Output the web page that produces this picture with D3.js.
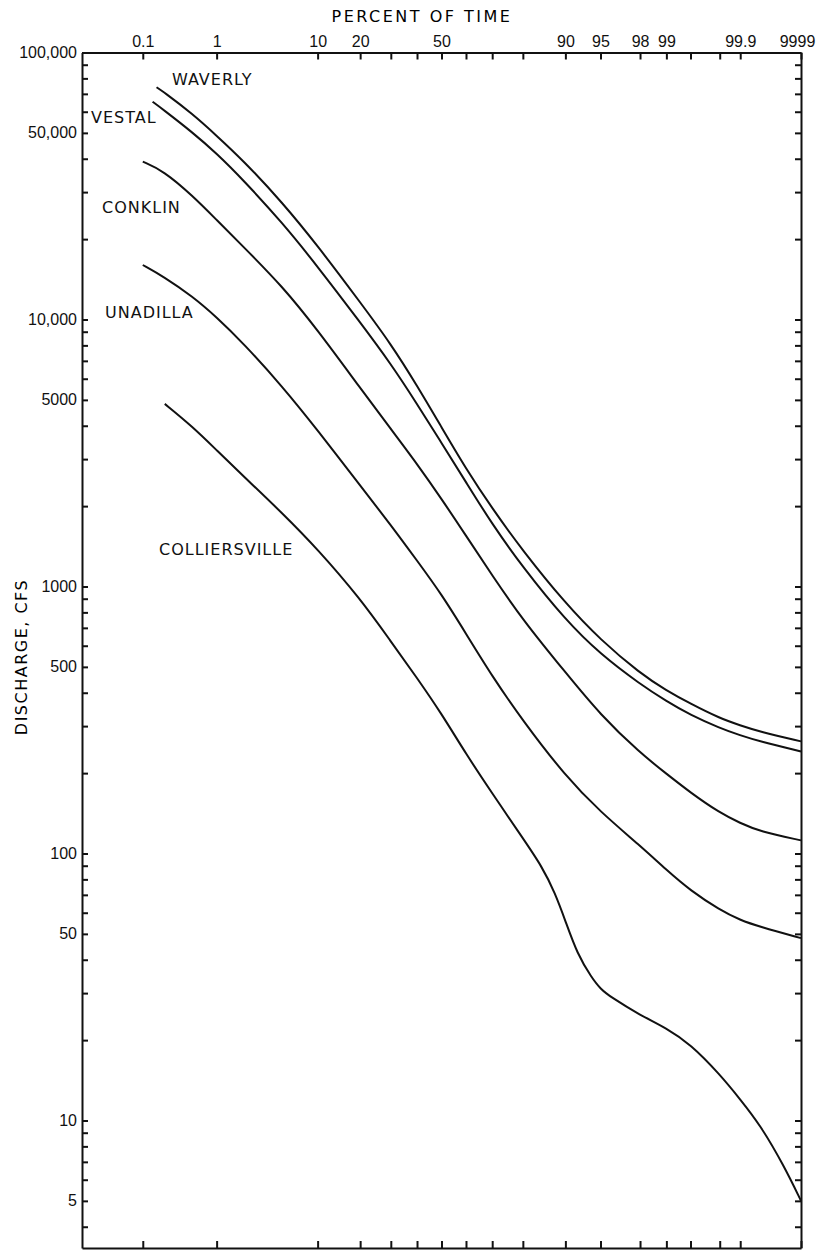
<!DOCTYPE html>
<html>
<head>
<meta charset="utf-8">
<script src="https://cdn.jsdelivr.net/npm/d3@7"></script>
<style>
  body { margin: 0; background: #fff; }
  svg { display: block; font-family: 'DejaVu Sans', sans-serif; }
  .axis path, .axis line { stroke: #111; stroke-width: 2; }
  .axis text { fill: #111; }
  .curve { fill: none; stroke: #111; stroke-width: 2; }
  .label { fill: #111; font-size: 16px; letter-spacing: 1px; }
</style>
</head>
<body>
<svg></svg>
<script>
// percent of time (exceedance) and discharge in cfs
const waverlyPct = [0.16, 0.2, 0.5, 1, 2, 5, 10, 20, 30, 40, 50, 60, 70, 80, 90, 95, 98, 99, 99.5, 99.8, 99.9, 99.95, 99.99];
const waverlyCfs = [74100, 71300, 58900, 48800, 39500, 27400, 18900, 11600, 8110, 5660, 3950, 2760, 1960, 1360, 865, 631, 473, 408, 364, 321, 302, 286, 263];

const vestalPct = [0.14, 0.2, 0.5, 1, 2, 5, 10, 20, 30, 40, 50, 60, 70, 80, 90, 95, 98, 99, 99.5, 99.8, 99.9, 99.95, 99.99];
const vestalCfs = [65400, 61100, 50200, 41900, 33400, 23000, 15800, 9760, 6830, 4830, 3450, 2460, 1710, 1180, 749, 557, 431, 372, 330, 295, 277, 263, 241];

const conklinPct = [0.1, 0.2, 0.5, 1, 2, 5, 10, 20, 30, 40, 50, 60, 70, 80, 90, 95, 98, 99, 99.5, 99.8, 99.9, 99.95, 99.99];
const conklinCfs = [39000, 36100, 29100, 23600, 18800, 13300, 9130, 5540, 3890, 2880, 2130, 1550, 1100, 749, 477, 330, 238, 199, 169, 142, 130, 121, 112];

const unadillaPct = [0.1, 0.2, 0.5, 1, 2, 5, 10, 20, 30, 40, 50, 60, 70, 80, 90, 95, 98, 99, 99.5, 99.8, 99.9, 99.95, 99.99];
const unadillaCfs = [16000, 14500, 12200, 10200, 8170, 5610, 3850, 2390, 1700, 1250, 936, 666, 461, 314, 195, 143, 107, 86.8, 72.6, 61.5, 56.3, 53.2, 48.2];

const colliersPct = [0.21, 0.5, 1, 2, 5, 10, 20, 30, 40, 50, 60, 70, 80, 85, 88, 90, 92, 94, 95, 96, 98, 99, 99.5, 99.8, 99.9, 99.95, 99.98, 99.99];
const colliersCfs = [4830, 3970, 3240, 2600, 1880, 1380, 901, 623, 455, 334, 236, 168, 114, 89.8, 71.1, 55.9, 42.0, 34.2, 31.1, 29.0, 24.8, 22.2, 19.3, 14.9, 12.0, 9.7, 6.8, 5.0];

const stationNames = ['WAVERLY', 'VESTAL', 'CONKLIN', 'UNADILLA', 'COLLIERSVILLE'];

const pctTicks = [0.1, 1, 10, 20, 30, 40, 50, 60, 70, 80, 90, 95, 98, 99, 99.5, 99.8, 99.9, 99.99];
const pctLabels = {0.1: '0.1', 1: '1', 10: '10', 20: '20', 50: '50', 90: '90', 95: '95', 98: '98', 99: '99', 99.9: '99.9', 99.99: '9999'};

const cfsLabels = [5, 10, 50, 100, 500, 1000, 5000, 10000, 50000, 100000];

const width = 827;
const height = 1251;
const plot = { left: 82, right: 801, top: 52.5, bottom: 1248 };

// label anchors (left x, baseline y)
const labelSpots = [[172, 85], [91, 123], [102, 213], [105, 318], [159, 555]];

// inverse normal cdf (Acklam) for the probability axis
function probit(p) {
  const a = [-39.69683028665376, 220.9460984245205, -275.9285104469687, 138.3577518672690, -30.66479806614716, 2.506628277459239];
  const b = [-54.47609879822406, 161.5858368580409, -155.6989798598866, 66.80131188771972, -13.28068155288572];
  const c = [-0.007784894002430293, -0.3223964580411365, -2.400758277161838, -2.549732539343734, 4.374664141464968, 2.938163982698783];
  const d = [0.007784695709041462, 0.3224671290700398, 2.445134137142996, 3.754408661907416];
  const plow = 0.02425;
  let q, r;
  if (p < plow) {
    q = Math.sqrt(-2 * Math.log(p));
    return (((((c[0] * q + c[1]) * q + c[2]) * q + c[3]) * q + c[4]) * q + c[5]) /
      ((((d[0] * q + d[1]) * q + d[2]) * q + d[3]) * q + 1);
  }
  if (p <= 1 - plow) {
    q = p - 0.5;
    r = q * q;
    return (((((a[0] * r + a[1]) * r + a[2]) * r + a[3]) * r + a[4]) * r + a[5]) * q /
      (((((b[0] * r + b[1]) * r + b[2]) * r + b[3]) * r + b[4]) * r + 1);
  }
  q = Math.sqrt(-2 * Math.log(1 - p));
  return -(((((c[0] * q + c[1]) * q + c[2]) * q + c[3]) * q + c[4]) * q + c[5]) /
    ((((d[0] * q + d[1]) * q + d[2]) * q + d[3]) * q + 1);
}

const zOf = pct => probit(pct / 100);

const x = d3.scaleLinear()
  .domain([zOf(0.01), zOf(99.99)])
  .range([plot.left, plot.right]);

const y = d3.scaleLog()
  .domain([3.33, 100000])
  .range([plot.bottom, plot.top]);

const yTicks = [];
for (let e = 0; e < 5; e++) {
  for (let m = 1; m < 10; m++) {
    const v = m * Math.pow(10, e);
    if (v >= 3.33) yTicks.push(v);
  }
}
yTicks.push(100000);

const svg = d3.select('svg')
  .attr('width', width)
  .attr('height', height);

svg.append('rect')
  .attr('width', width)
  .attr('height', height)
  .attr('fill', '#fff');

const fmtCfs = v => {
  if (!cfsLabels.includes(v)) return '';
  return v >= 10000 ? d3.format(',')(v) : String(v);
};

svg.append('g')
  .classed('axis', true)
  .attr('transform', `translate(${plot.left},0)`)
  .call(d3.axisLeft(y).tickValues(yTicks).tickFormat(fmtCfs).tickSize(-6).tickSizeOuter(0).tickPadding(5))
  .selectAll('text')
  .style('font-size', '16px');

svg.append('g')
  .classed('axis', true)
  .attr('transform', `translate(${plot.right},0)`)
  .call(d3.axisRight(y).tickValues(yTicks).tickFormat('').tickSize(-6).tickSizeOuter(0));

const zTicks = pctTicks.map(zOf);

const topAxis = svg.append('g')
  .classed('axis', true)
  .attr('transform', `translate(0,${plot.top})`)
  .call(d3.axisTop(x)
    .tickValues(zTicks)
    .tickFormat((d, i) => pctLabels[pctTicks[i]] || '')
    .tickSize(-7)
    .tickSizeOuter(0)
    .tickPadding(6));

topAxis.selectAll('text')
  .style('font-size', '16px')
  .attr('dx', (d, i) => pctTicks[i] === 99.99 ? -4 : 0);

svg.append('g')
  .classed('axis', true)
  .attr('transform', `translate(0,${plot.bottom})`)
  .call(d3.axisBottom(x).tickValues(zTicks).tickFormat('').tickSize(-7).tickSizeOuter(0));

svg.append('text')
  .attr('x', 422)
  .attr('y', 22)
  .attr('text-anchor', 'middle')
  .style('font-size', '16px')
  .style('letter-spacing', '2.5px')
  .text('PERCENT OF TIME');

svg.append('text')
  .attr('transform', 'translate(27,657) rotate(-90)')
  .attr('text-anchor', 'middle')
  .style('font-size', '16px')
  .style('letter-spacing', '1.5px')
  .text('DISCHARGE, CFS');

const series = [
  { pct: waverlyPct, cfs: waverlyCfs },
  { pct: vestalPct, cfs: vestalCfs },
  { pct: conklinPct, cfs: conklinCfs },
  { pct: unadillaPct, cfs: unadillaCfs },
  { pct: colliersPct, cfs: colliersCfs }
];

const line = d3.line()
  .x(d => x(zOf(d[0])))
  .y(d => y(d[1]))
  .curve(d3.curveBasis);

svg.append('g')
  .selectAll('path')
  .data(series)
  .enter()
  .append('path')
  .classed('curve', true)
  .attr('d', s => line(s.pct.map((p, i) => [p, s.cfs[i]])));

svg.append('g')
  .selectAll('text')
  .data(stationNames)
  .enter()
  .append('text')
  .classed('label', true)
  .attr('x', (d, i) => labelSpots[i][0])
  .attr('y', (d, i) => labelSpots[i][1])
  .text(d => d);
</script>
</body>
</html>
